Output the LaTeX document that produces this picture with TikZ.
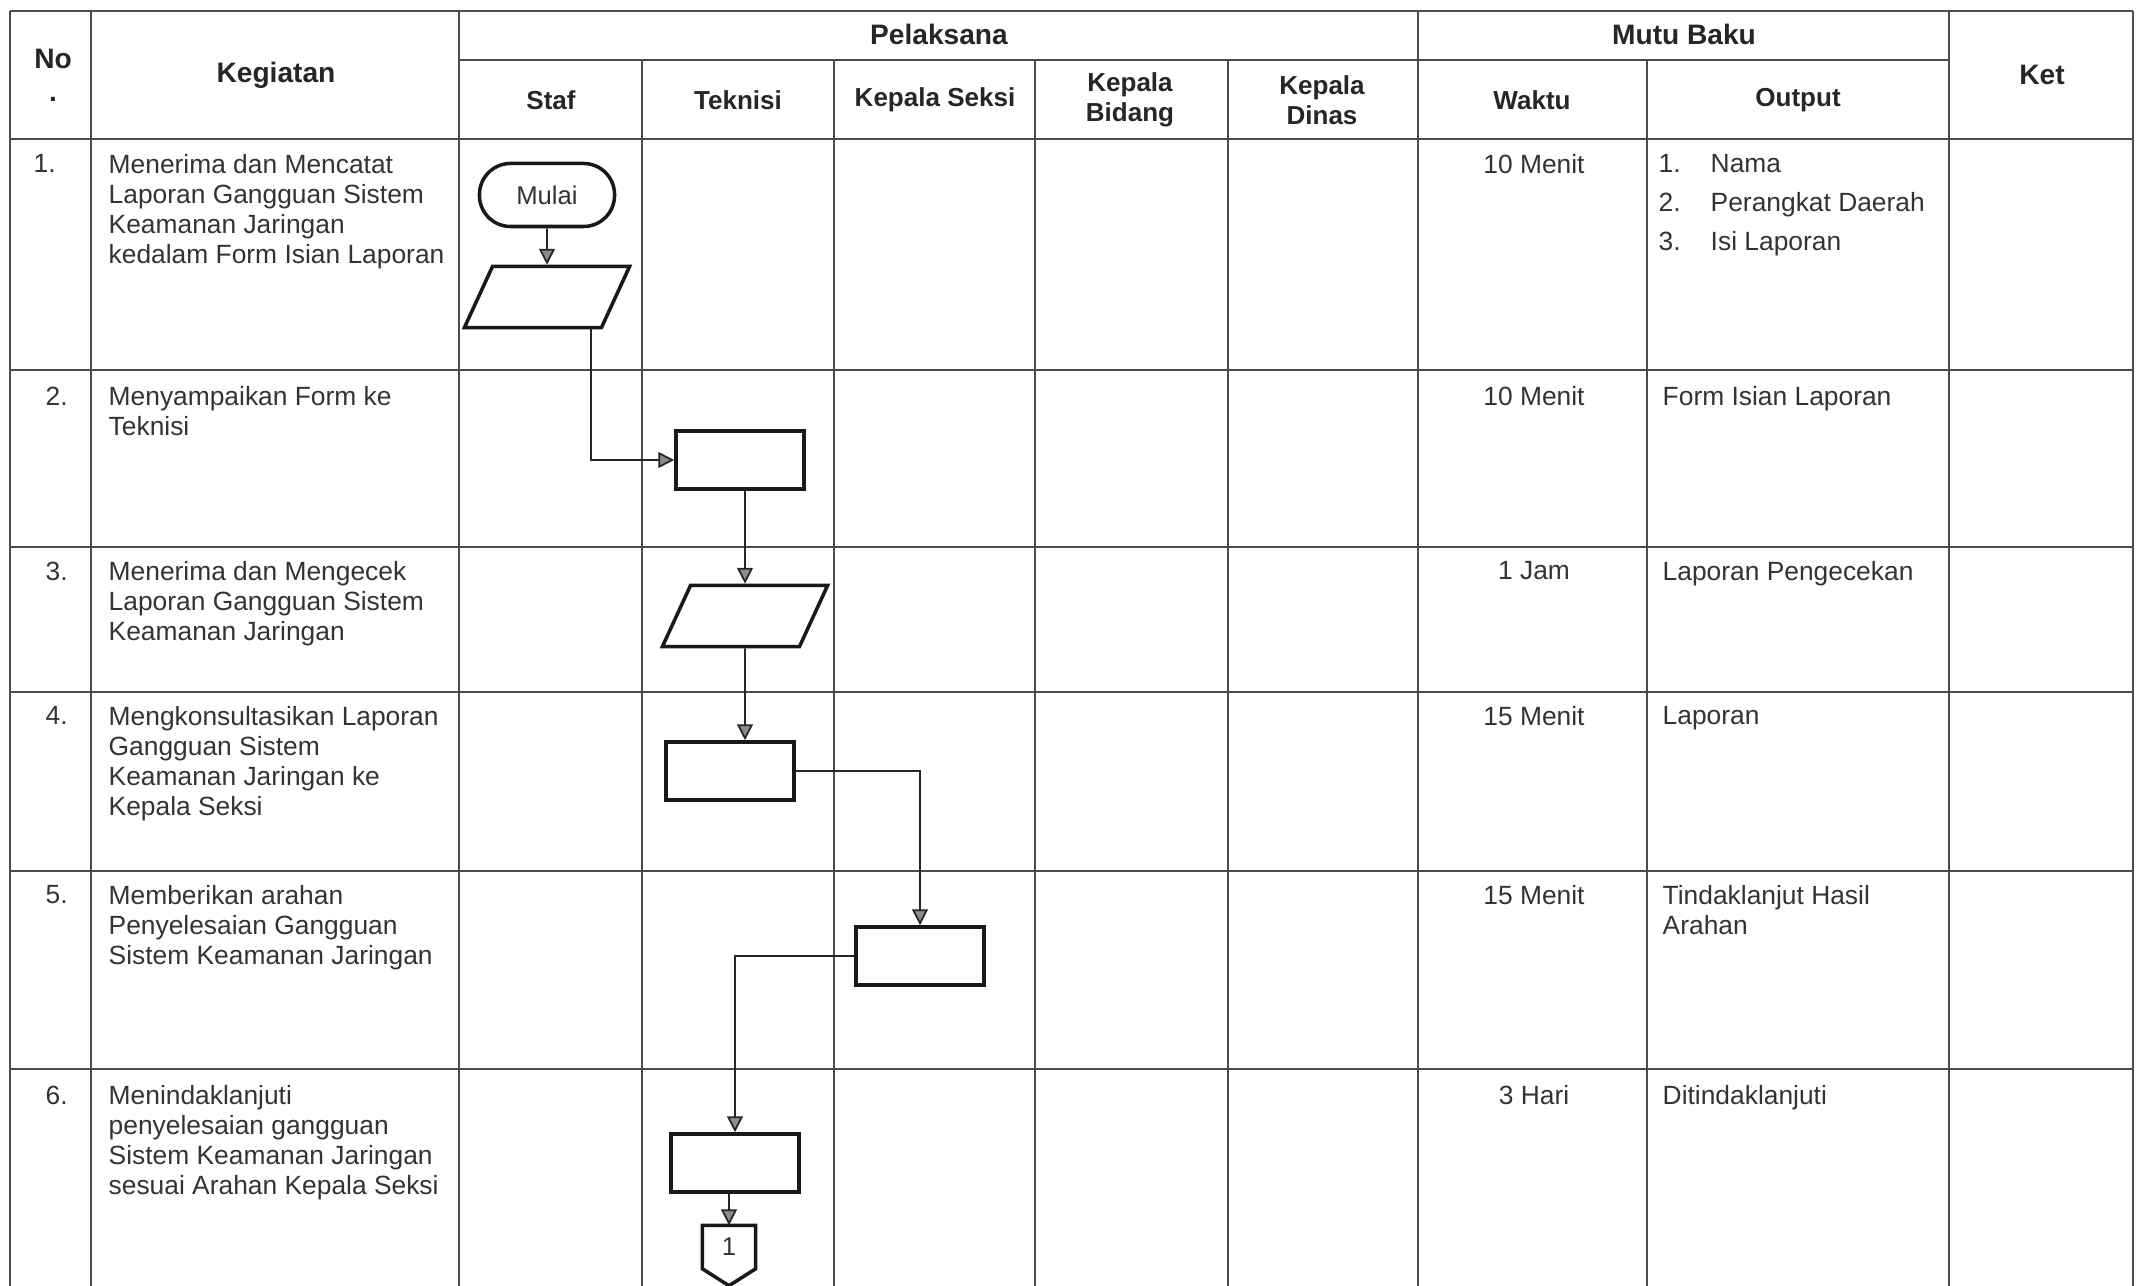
\documentclass[tikz,border=0pt]{standalone}
\usepackage{fontspec}
\setmainfont{Liberation Sans}
\usetikzlibrary{arrows.meta}

\tikzset{
  tableline/.style={line width=0.5pt, draw=black!70},
  flowline/.style={line width=0.5pt, draw=black!85, -{Triangle[length=4.5pt, width=4.5pt, fill=black!45]}},
  proc/.style={draw=black!90, line width=1pt, minimum width=1.28cm, minimum height=0.58cm, inner sep=0},
  term/.style={draw=black!90, line width=1pt, rounded corners=0.31cm, minimum width=1.35cm, minimum height=0.63cm, inner sep=0, font=\fontsize{7.3}{8.5}\selectfont, text=black!80},
  inout/.style={draw=black!90, line width=1pt, minimum width=1.37cm, minimum height=0.61cm, inner sep=0, xslant=0.46},
  hdr/.style={font=\bfseries\fontsize{8}{9.4}\selectfont, align=center, text=black!85, inner sep=0},
  subhdr/.style={font=\bfseries\fontsize{7.4}{8.5}\selectfont, align=center, text=black!85, inner sep=0},
  cell/.style={font=\fontsize{7.5}{8.5}\selectfont, align=left, anchor=north west, text=black!80, inner sep=0},
  waktu/.style={font=\fontsize{7.5}{8.5}\selectfont, anchor=north, text=black!80, inner sep=0},
}

\begin{document}
\begin{tikzpicture}[x=0.01cm, y=-0.01cm]
            \useasboundingbox (0,0) rectangle (2143,1286);

            % table
            \draw[tableline] (10,11) -- (2133,11);
            \draw[tableline] (459,60) -- (1949,60);
            \draw[tableline] (10,139) -- (2133,139) (10,370) -- (2133,370) (10,547) -- (2133,547)
                (10,692) -- (2133,692) (10,871) -- (2133,871) (10,1069) -- (2133,1069);
            \draw[tableline] (10,11) -- (10,1286) (91,11) -- (91,1286) (459,11) -- (459,1286)
                (1418,11) -- (1418,1286) (1949,11) -- (1949,1286) (2133,11) -- (2133,1286);
            \draw[tableline] (642,60) -- (642,1286) (834,60) -- (834,1286) (1035,60) -- (1035,1286)
                (1228,60) -- (1228,1286) (1647,60) -- (1647,1286);

            % header
            \node[hdr, anchor=north] (no) at (53,48) {No\\.};
            \node[hdr] (kegiatan) at (276,75) {Kegiatan};
            \node[hdr] (pelaksana) at (939,34) {Pelaksana};
            \node[hdr] (mutubaku) at (1684,34) {Mutu Baku};
            \node[hdr] (ket) at (2042,75) {Ket};
            \node[subhdr] (staf) at (551,100) {Staf};
            \node[subhdr] (teknisi) at (738,100) {Teknisi};
            \node[subhdr] (kasi) at (935,100) {Kepala Seksi};
            \node[subhdr] (kabid) at (1130,100) {Kepala\\Bidang};
            \node[subhdr] (kadis) at (1322,100) {Kepala\\Dinas};
            \node[subhdr] (wkt) at (1532,100) {Waktu};
            \node[subhdr] (out) at (1798,100) {Output};

            % rows
            \node[cell] (n1) at (33,154) {1.};
            \node[cell] (n2) at (45,386) {2.};
            \node[cell] (n3) at (45,561) {3.};
            \node[cell] (n4) at (45,706) {4.};
            \node[cell] (n5) at (45,885) {5.};
            \node[cell] (n6) at (45,1085) {6.};

            \node[cell] (k1) at (108,154) {Menerima dan Mencatat\\Laporan Gangguan Sistem\\Keamanan Jaringan\\kedalam Form Isian Laporan};
            \node[cell] (k2) at (108,386) {Menyampaikan Form ke\\Teknisi};
            \node[cell] (k3) at (108,561) {Menerima dan Mengecek\\Laporan Gangguan Sistem\\Keamanan Jaringan};
            \node[cell] (k4) at (108,706) {Mengkonsultasikan Laporan\\Gangguan Sistem\\Keamanan Jaringan ke\\Kepala Seksi};
            \node[cell] (k5) at (108,885) {Memberikan arahan\\Penyelesaian Gangguan\\Sistem Keamanan Jaringan};
            \node[cell] (k6) at (108,1085) {Menindaklanjuti\\penyelesaian gangguan\\Sistem Keamanan Jaringan\\sesuai Arahan Kepala Seksi};

            \node[waktu] (w1) at (1534,154) {10 Menit};
            \node[waktu] (w2) at (1534,386) {10 Menit};
            \node[waktu] (w3) at (1534,561) {1 Jam};
            \node[waktu] (w4) at (1534,706) {15 Menit};
            \node[waktu] (w5) at (1534,885) {15 Menit};
            \node[waktu] (w6) at (1534,1085) {3 Hari};

            \node[cell, font=\fontsize{7.5}{11.1}\selectfont] (o1) at (1658,154)
                {\makebox[0.52cm][l]{1.}Nama\\\makebox[0.52cm][l]{2.}Perangkat Daerah\\\makebox[0.52cm][l]{3.}Isi Laporan};
            \node[cell] (o2) at (1662,386) {Form Isian Laporan};
            \node[cell] (o3) at (1662,561) {Laporan Pengecekan};
            \node[cell] (o4) at (1662,706) {Laporan};
            \node[cell] (o5) at (1662,885) {Tindaklanjut Hasil\\Arahan};
            \node[cell] (o6) at (1662,1085) {Ditindaklanjuti};

            % flow
            \node[term] (mulai) at (547,195) {Mulai};
            \node[inout] (in1) at (547,297) {};
            \node[proc] (b2) at (740,460) {};
            \node[inout] (in2) at (745,616) {};
            \node[proc] (b4) at (730,771) {};
            \node[proc] (b5) at (920,956) {};
            \node[proc] (b6) at (735,1163) {};
            \node[inner sep=0, minimum width=0.52cm, minimum height=0.42cm, font=\fontsize{7.3}{8.5}\selectfont, text=black!80] (c1) at (729,1247) {1};
            \draw[draw=black!90, line width=1pt] (c1.north west) -- (c1.north east) -- (c1.south east)
                -- ([yshift=-0.17cm]c1.south) -- (c1.south west) -- cycle;

            \draw[flowline] (mulai) -- (in1);
            \draw[flowline] ([xshift=0.59cm]in1.south) |- (b2);
            \draw[flowline] (in2 |- b2.south) -- (in2);
            \draw[flowline] (in2) -- (in2 |- b4.north);
            \draw[flowline] (b4) -| (b5);
            \draw[flowline] (b5) -| (b6);
            \draw[flowline] (c1 |- b6.south) -- (c1.north);
        \end{tikzpicture}
\end{document}
